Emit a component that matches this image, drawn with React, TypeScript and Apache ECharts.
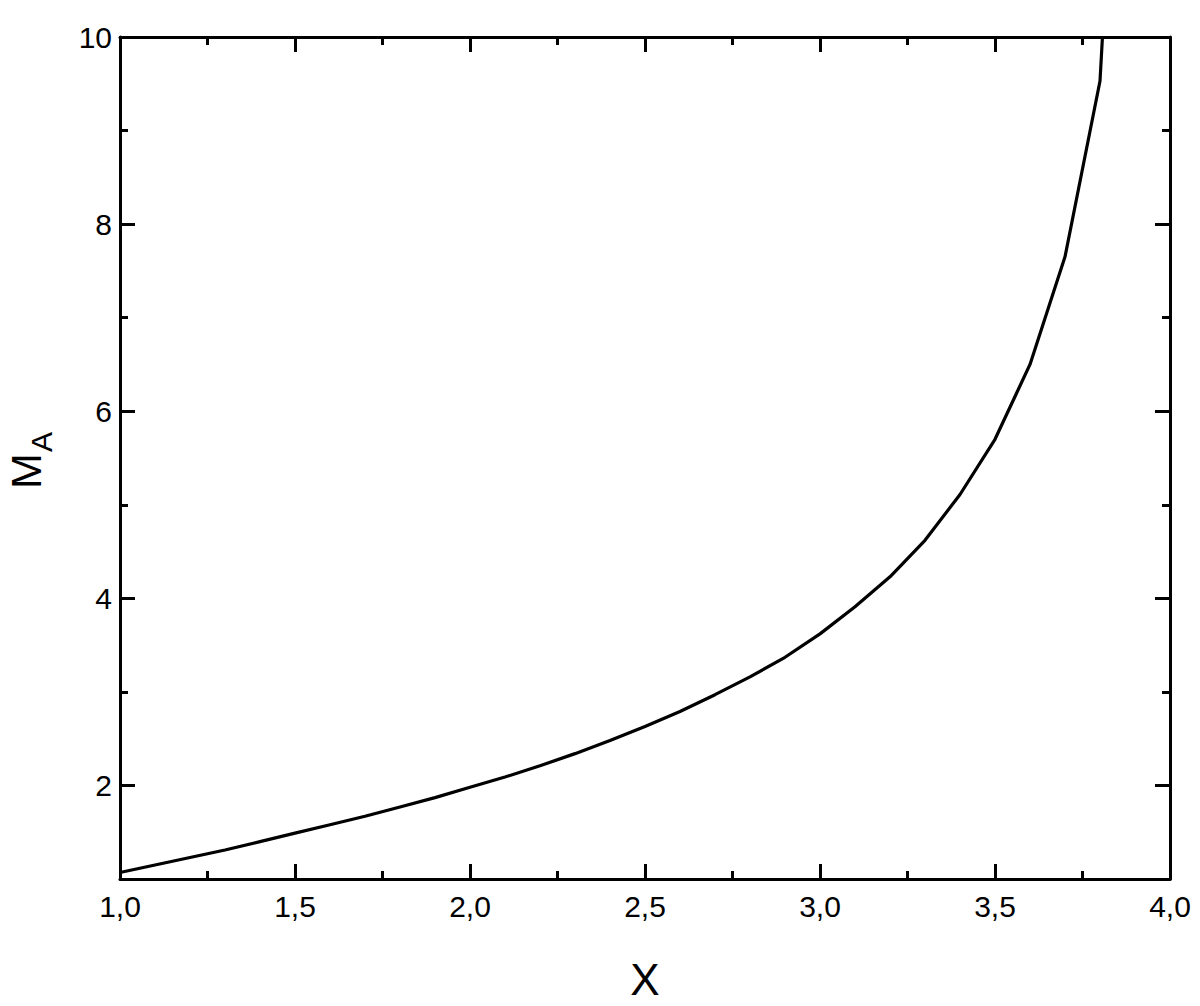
import React, { useEffect, useRef } from "react";
import * as echarts from "echarts";

const X_VALUES = [
  1.0, 1.1, 1.2, 1.3, 1.4, 1.5, 1.6, 1.7, 1.8, 1.9, 2.0, 2.1, 2.2, 2.3, 2.4,
  2.5, 2.6, 2.7, 2.8, 2.9, 3.0, 3.1, 3.2, 3.3, 3.4, 3.5, 3.6, 3.7, 3.8, 3.807,
];
const MA_VALUES = [
  1.07, 1.15, 1.23, 1.31, 1.4, 1.49, 1.58, 1.67, 1.77, 1.87, 1.98, 2.09, 2.21,
  2.34, 2.48, 2.63, 2.79, 2.97, 3.16, 3.37, 3.62, 3.91, 4.23, 4.62, 5.11, 5.7,
  6.5, 7.65, 9.53, 10.0,
];
const Y_MAJOR_TICKS = [2, 4, 6, 8, 10];
const X_AXIS_TITLE = "X";
const Y_AXIS_TITLE_MAIN = "M";
const Y_AXIS_TITLE_SUB = "A";

const FONT = "'Liberation Sans', Arial, Helvetica, sans-serif";
const AXIS_W = 3;

export default function App() {
  const ref = useRef<HTMLDivElement>(null);

  useEffect(() => {
    document.body.style.margin = "0";
    if (!ref.current) return;
    const chart = echarts.init(ref.current, undefined, { renderer: "svg" });

    const lineStyle = { color: "#000", width: AXIS_W };
    const baseX = {
      type: "value" as const,
      min: 1,
      max: 4,
      interval: 0.5,
      splitLine: { show: false },
      axisLine: { show: true, onZero: false, lineStyle },
      axisTick: { show: true, inside: true, length: 15, lineStyle },
      minorTick: { show: true, splitNumber: 2, length: 8, lineStyle },
    };
    const baseY = {
      type: "value" as const,
      min: 1,
      max: 10,
      interval: 1,
      splitLine: { show: false },
    };

    chart.setOption({
      animation: false,
      backgroundColor: "#fff",
      grid: { left: 120, right: 30, top: 37, bottom: 122 },
      xAxis: [
        {
          ...baseX,
          position: "bottom",
          name: X_AXIS_TITLE,
          nameLocation: "middle",
          nameGap: 78,
          nameTextStyle: { fontSize: 44, color: "#000", fontFamily: FONT },
          axisLabel: {
            fontSize: 30,
            color: "#000",
            fontFamily: FONT,
            margin: 12,
            formatter: (v: number) => v.toFixed(1).replace(".", ","),
          },
        },
        {
          ...baseX,
          position: "top",
          axisLabel: { show: false },
        },
      ],
      yAxis: [
        {
          ...baseY,
          position: "left",
          axisLine: { show: true, onZero: false, lineStyle },
          axisTick: { show: true, inside: true, length: 8, lineStyle },
          axisLabel: { show: false },
        },
        {
          ...baseY,
          position: "right",
          axisLine: { show: true, onZero: false, lineStyle },
          axisTick: { show: true, inside: true, length: 8, lineStyle },
          axisLabel: { show: false },
        },
        {
          ...baseY,
          position: "left",
          axisLine: { show: false },
          axisTick: {
            show: true,
            inside: true,
            length: 15,
            lineStyle,
            customValues: Y_MAJOR_TICKS,
          },
          axisLabel: {
            show: true,
            fontSize: 30,
            color: "#000",
            fontFamily: FONT,
            margin: 8,
            customValues: Y_MAJOR_TICKS,
          },
        },
        {
          ...baseY,
          position: "right",
          axisLine: { show: false },
          axisTick: {
            show: true,
            inside: true,
            length: 15,
            lineStyle,
            customValues: Y_MAJOR_TICKS,
          },
          axisLabel: { show: false },
        },
      ],
      graphic: [
        {
          type: "text",
          x: 26,
          y: 471,
          rotation: Math.PI / 2,
          style: {
            text: Y_AXIS_TITLE_MAIN,
            fontSize: 43,
            lineHeight: 36,
            fontFamily: FONT,
            fill: "#000",
            align: "center",
            verticalAlign: "middle",
            textAlign: "center",
            textVerticalAlign: "middle",
          },
        },
        {
          type: "text",
          x: 41,
          y: 442,
          rotation: Math.PI / 2,
          style: {
            text: Y_AXIS_TITLE_SUB,
            fontSize: 30,
            lineHeight: 26,
            fontFamily: FONT,
            fill: "#000",
            align: "center",
            verticalAlign: "middle",
            textAlign: "center",
            textVerticalAlign: "middle",
          },
        },
      ],
      series: [
        {
          type: "line",
          xAxisIndex: 0,
          yAxisIndex: 0,
          data: X_VALUES.map((x, i) => [x, MA_VALUES[i]]),
          showSymbol: false,
          symbol: "none",
          clip: true,
          lineStyle: { color: "#000", width: 3.2 },
          z: 5,
        },
      ],
    });

    return () => chart.dispose();
  }, []);

  return <div ref={ref} style={{ width: 1200, height: 1006 }} />;
}
